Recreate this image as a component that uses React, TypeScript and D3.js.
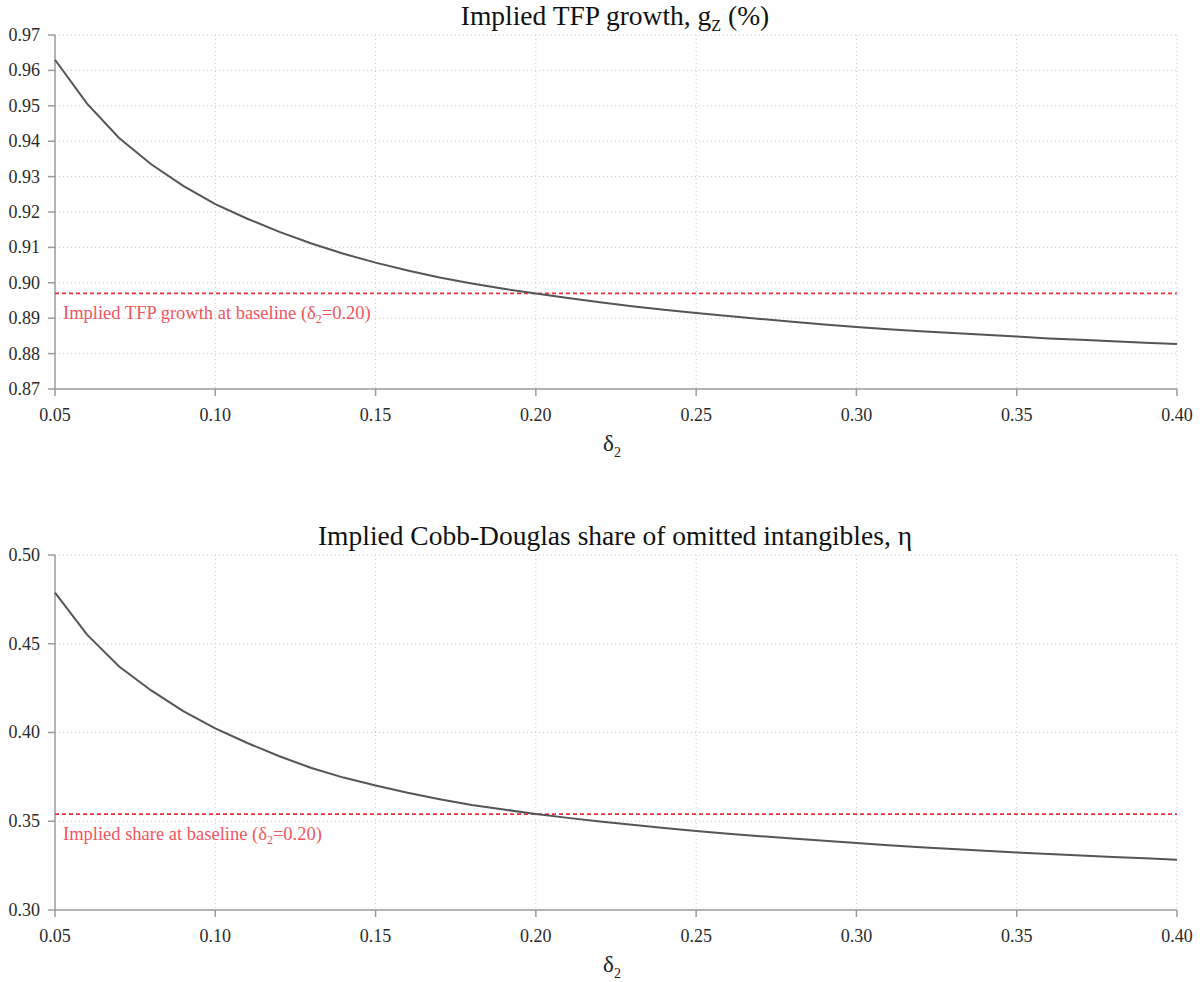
import React from "react";
import * as d3 from "d3";

// delta_2 grid
const deltas = d3.range(5, 41).map((d) => d / 100);

// Implied TFP growth g_Z (%)
const tfpGrowth = [
  0.963, 0.9506, 0.9409, 0.9335, 0.9274, 0.9222, 0.9181, 0.9144, 0.9111, 0.9082,
  0.9057, 0.9035, 0.9015, 0.8998, 0.8983, 0.897, 0.8957, 0.8945, 0.8934, 0.8924,
  0.8915, 0.8906, 0.8898, 0.889, 0.8882, 0.8875, 0.8869, 0.8863, 0.8858, 0.8853,
  0.8848, 0.8843, 0.8839, 0.8835, 0.8831, 0.8827,
];

// Implied Cobb-Douglas share eta
const etaShare = [
  0.4788, 0.4551, 0.4372, 0.4237, 0.412, 0.4023, 0.3941, 0.3866, 0.38, 0.3746,
  0.3701, 0.366, 0.3624, 0.3592, 0.3566, 0.3541, 0.3519, 0.3499, 0.348, 0.3462,
  0.3445, 0.343, 0.3416, 0.3403, 0.339, 0.3377, 0.3365, 0.3354, 0.3344, 0.3334,
  0.3324, 0.3315, 0.3307, 0.3299, 0.3291, 0.3283,
];

const tfpBaseline = 0.897;
const etaBaseline = 0.354;

const xTicks = [0.05, 0.1, 0.15, 0.2, 0.25, 0.3, 0.35, 0.4];
const tfpTicks = [0.87, 0.88, 0.89, 0.9, 0.91, 0.92, 0.93, 0.94, 0.95, 0.96, 0.97];
const etaTicks = [0.3, 0.35, 0.4, 0.45, 0.5];

const W = 1203;
const H = 982;
const FONT = "Liberation Serif";

interface PanelProps {
  top: number;
  bottom: number;
  values: number[];
  yDomain: [number, number];
  yTicks: number[];
  baseline: number;
  baselineLabel: string;
  title: React.ReactNode;
}

const x = d3.scaleLinear().domain([0.05, 0.4]).range([55, 1177]);

const Panel: React.FC<PanelProps> = ({
  top,
  bottom,
  values,
  yDomain,
  yTicks,
  baseline,
  baselineLabel,
  title,
}) => {
  const y = d3.scaleLinear().domain(yDomain).range([bottom, top]);
  const line = d3
    .line<number>()
    .x((_, i) => x(deltas[i]))
    .y((d) => y(d));
  const [x0, x1] = x.range();

  return (
    <g>
      {/* grid */}
      {yTicks.slice(1).map((t) => (
        <line
          key={"gy" + t}
          x1={x0}
          x2={x1}
          y1={y(t)}
          y2={y(t)}
          stroke="#c8c8c8"
          strokeWidth={1}
          strokeDasharray="1,3"
        />
      ))}
      {xTicks.slice(1).map((t) => (
        <line
          key={"gx" + t}
          x1={x(t)}
          x2={x(t)}
          y1={top}
          y2={bottom}
          stroke="#c8c8c8"
          strokeWidth={1}
          strokeDasharray="1,3"
        />
      ))}

      {/* axes */}
      <line x1={x0} x2={x0} y1={top} y2={bottom} stroke="#9a9a9a" strokeWidth={1.5} />
      <line x1={x0} x2={x1} y1={bottom} y2={bottom} stroke="#9a9a9a" strokeWidth={1.5} />
      {yTicks.map((t) => (
        <g key={"ty" + t}>
          <line x1={x0 - 7} x2={x0} y1={y(t)} y2={y(t)} stroke="#9a9a9a" strokeWidth={1.5} />
          <text
            x={x0 - 15}
            y={y(t)}
            dy="0.33em"
            textAnchor="end"
            fontSize={18}
            fontFamily={FONT}
            fill="#2a2a2a"
          >
            {t.toFixed(2)}
          </text>
        </g>
      ))}
      {xTicks.map((t) => (
        <g key={"tx" + t}>
          <line x1={x(t)} x2={x(t)} y1={bottom} y2={bottom + 7} stroke="#9a9a9a" strokeWidth={1.5} />
          <text
            x={x(t)}
            y={bottom + 32}
            textAnchor="middle"
            fontSize={18}
            fontFamily={FONT}
            fill="#2a2a2a"
          >
            {t.toFixed(2)}
          </text>
        </g>
      ))}

      {/* baseline */}
      <line
        x1={x0}
        x2={x1}
        y1={y(baseline)}
        y2={y(baseline)}
        stroke="#f03040"
        strokeWidth={1.6}
        strokeDasharray="4,3"
      />
      <text x={x0 + 8} y={y(baseline) + 26} fontSize={18.5} fontFamily={FONT} fill="#f25560">
        {baselineLabel}
        <tspan>(δ</tspan>
        <tspan fontSize={12} dy={4}>2</tspan>
        <tspan dy={-4}>=0.20)</tspan>
      </text>

      {/* curve */}
      <path d={line(values) || ""} fill="none" stroke="#555" strokeWidth={2} />

      {/* x label */}
      <text x={612} y={bottom + 62} textAnchor="middle" fontSize={23} fontFamily={FONT} fill="#222">
        δ<tspan fontSize={14} dy={6}>2</tspan>
      </text>

      {/* title */}
      <text x={615} y={top - 10} textAnchor="middle" fontSize={27.5} fontFamily={FONT} fill="#111">
        {title}
      </text>
    </g>
  );
};

export default function App() {
  return (
    <div style={{ position: "fixed", left: 0, top: 0 }}>
      <svg width={W} height={H} style={{ display: "block", background: "#fff" }}>
        <Panel
          top={35}
          bottom={389}
          values={tfpGrowth}
          yDomain={[0.87, 0.97]}
          yTicks={tfpTicks}
          baseline={tfpBaseline}
          baselineLabel="Implied TFP growth at baseline "
          title={
            <>
              Implied TFP growth, g<tspan fontSize={16} dy={6}>Z</tspan>
              <tspan dy={-6}> (%)</tspan>
            </>
          }
        />
        <Panel
          top={555}
          bottom={910}
          values={etaShare}
          yDomain={[0.3, 0.5]}
          yTicks={etaTicks}
          baseline={etaBaseline}
          baselineLabel="Implied share at baseline "
          title={<>Implied Cobb-Douglas share of omitted intangibles, η</>}
        />
      </svg>
    </div>
  );
}
